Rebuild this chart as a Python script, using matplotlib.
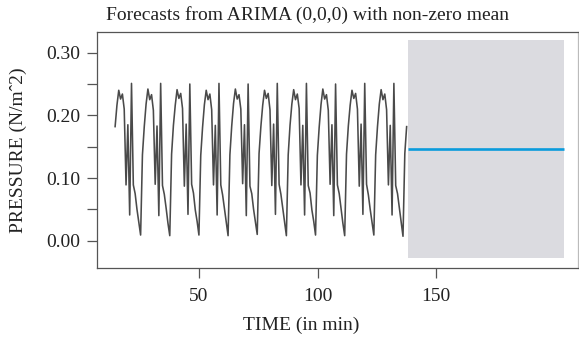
import numpy as np
import matplotlib
matplotlib.use("Agg")
import matplotlib.pyplot as plt

plt.rcParams['font.family'] = ['Liberation Serif', 'DejaVu Serif']

# observed pressure series (one row per cycle)
pressure = [
    0.182, 0.216, 0.240, 0.226, 0.234, 0.210, 0.089, 0.185, 0.041, 0.251, 0.089, 0.075, 0.050, 0.030, 0.009, 0.137,
    0.182, 0.218, 0.242, 0.225, 0.233, 0.208, 0.090, 0.183, 0.040, 0.251, 0.088, 0.074, 0.052, 0.028, 0.008, 0.138,
    0.184, 0.216, 0.241, 0.227, 0.235, 0.211, 0.087, 0.186, 0.042, 0.250, 0.090, 0.076, 0.049, 0.031, 0.009, 0.136,
    0.181, 0.217, 0.240, 0.225, 0.234, 0.209, 0.089, 0.184, 0.041, 0.251, 0.089, 0.073, 0.051, 0.029, 0.008, 0.137,
    0.183, 0.219, 0.242, 0.226, 0.233, 0.210, 0.091, 0.185, 0.040, 0.250, 0.087, 0.075, 0.050, 0.030, 0.010, 0.139,
    0.182, 0.216, 0.240, 0.227, 0.235, 0.209, 0.088, 0.186, 0.042, 0.251, 0.090, 0.074, 0.052, 0.029, 0.008, 0.137,
    0.184, 0.218, 0.241, 0.225, 0.234, 0.211, 0.089, 0.184, 0.041, 0.251, 0.088, 0.076, 0.049, 0.031, 0.009, 0.136,
    0.181, 0.217, 0.242, 0.226, 0.233, 0.208, 0.090, 0.185, 0.040, 0.250, 0.089, 0.075, 0.051, 0.028, 0.008, 0.138,
    0.183, 0.216, 0.240, 0.227, 0.235, 0.210, 0.087, 0.186, 0.042, 0.251, 0.090, 0.073, 0.050, 0.030, 0.009, 0.137,
    0.182, 0.218, 0.241, 0.225, 0.234, 0.209, 0.089, 0.184, 0.041, 0.251, 0.088, 0.075, 0.052, 0.029, 0.007, 0.139,
    0.182,
]
time_start, time_end = 14.6, 137.6

# ARIMA(0,0,0) forecast: mean and prediction interval
fc_start, fc_end = 138.0, 203.8
fc_mean = 0.146
fc_lower = -0.028
fc_upper = 0.320

x_ticks = [50, 100, 150]
y_ticks = [0.00, 0.05, 0.10, 0.15, 0.20, 0.25, 0.30]
y_labels = ['0.00', '', '0.10', '', '0.20', '', '0.30']

W, H = 579, 338
fig = plt.figure(figsize=(W / 100, H / 100), dpi=100)
ax = fig.add_axes([97 / W, (H - 268) / H, (578 - 97) / W, (268 - 32) / H])

t = np.linspace(time_start, time_end, len(pressure))
ax.fill_between([fc_start, fc_end], [fc_lower, fc_lower], [fc_upper, fc_upper],
                color='#dbdbe0', linewidth=0)
ax.plot(t, pressure, color='#4a4a4a', linewidth=1.15)
ax.plot([fc_start, fc_end], [fc_mean, fc_mean], color='#0a9bdc', linewidth=1.9,
        solid_capstyle='butt')

ax.set_xlim(6.96, 209.9)
ax.set_ylim(-0.0436, 0.333)
ax.set_xticks(x_ticks)
ax.set_xticklabels([str(v) for v in x_ticks])
ax.set_yticks(y_ticks)
ax.set_yticklabels(y_labels)

for name, sp in ax.spines.items():
    sp.set_color('#555555')
    sp.set_linewidth(0.9)
ax.spines['right'].set_color('#bbbbbb')
ax.tick_params(axis='both', direction='out', length=7.2, width=0.9, color='#555555',
               labelsize=14, labelcolor='#222222')
ax.tick_params(axis='x', pad=7)
ax.tick_params(axis='y', pad=5)

fig.text(308 / W, 1 - 15 / H, 'Forecasts from ARIMA (0,0,0) with non-zero mean',
         ha='center', va='center', fontsize=14, color='#222222')
fig.text(301.5 / W, 1 - 325 / H, 'TIME (in min)', ha='center', va='center',
         fontsize=14, color='#222222')
fig.text(18 / W, 1 - 150 / H, 'PRESSURE (N/m\u02c62)', ha='center', va='center',
         rotation=90, fontsize=14, color='#222222')

fig.savefig('out.png', dpi=100)
